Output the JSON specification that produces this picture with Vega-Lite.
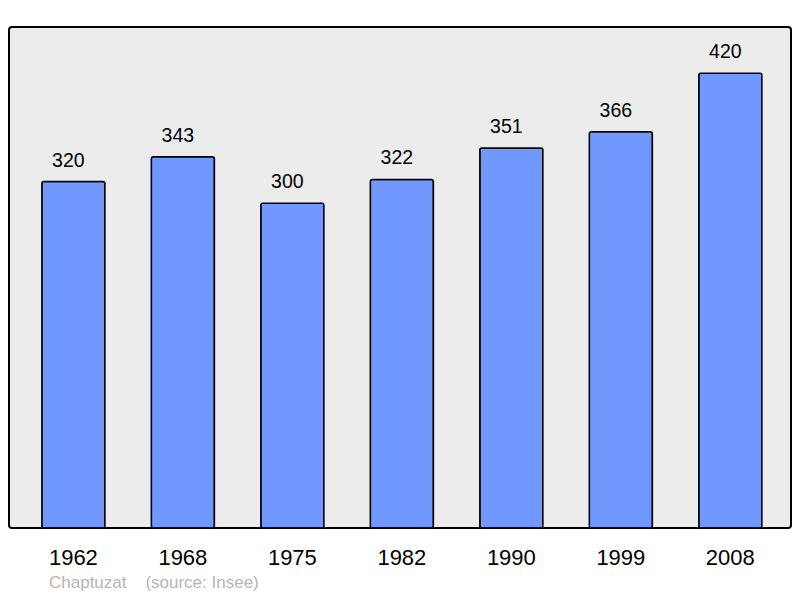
{
  "$schema": "https://vega.github.io/schema/vega-lite/v6.json",
  "width": 782,
  "height": 501,
  "autosize": "none",
  "padding": {"left": 9, "top": 27, "right": 9, "bottom": 70},
  "background": "#ffffff",
  "config": {
    "font": "Liberation Sans",
    "view": {"stroke": "#000000", "strokeWidth": 2, "fill": "#ececec", "cornerRadius": 3}
  },
  "title": {
    "text": "Chaptuzat\u00a0\u00a0\u00a0\u00a0(source: Insee)",
    "orient": "bottom",
    "anchor": "start",
    "frame": "group",
    "dx": 40,
    "offset": 7,
    "fontSize": 17,
    "fontWeight": "normal",
    "color": "#b5b5b5",
    "font": "Liberation Sans"
  },
  "data": {
    "values": [
      {"year": "1962", "population": 320},
      {"year": "1968", "population": 343},
      {"year": "1975", "population": 300},
      {"year": "1982", "population": 322},
      {"year": "1990", "population": 351},
      {"year": "1999", "population": 366},
      {"year": "2008", "population": 420}
    ]
  },
  "encoding": {
    "x": {
      "field": "year",
      "type": "nominal",
      "sort": null,
      "scale": {"paddingInner": 0.424, "paddingOuter": 0.283, "align": 0.53},
      "axis": {
        "title": null,
        "domain": false,
        "ticks": false,
        "tickSize": 0,
        "labelPadding": 36,
        "labelBaseline": "alphabetic",
        "labelFontSize": 22,
        "labelColor": "#000000",
        "labelAngle": 0,
        "labelFont": "Liberation Sans"
      }
    },
    "y": {
      "field": "population",
      "type": "quantitative",
      "scale": {"domain": [0, 462.8], "nice": false, "zero": true},
      "axis": null
    }
  },
  "layer": [
    {
      "mark": {"type": "bar", "fill": "#7098ff", "stroke": "#000000", "strokeWidth": 1.5, "cornerRadius": 2}
    },
    {
      "mark": {"type": "text", "baseline": "alphabetic", "dx": -5, "dy": -15, "fontSize": 19.5, "color": "#000000", "font": "Liberation Sans"},
      "encoding": {"text": {"field": "population", "type": "quantitative"}}
    }
  ]
}
